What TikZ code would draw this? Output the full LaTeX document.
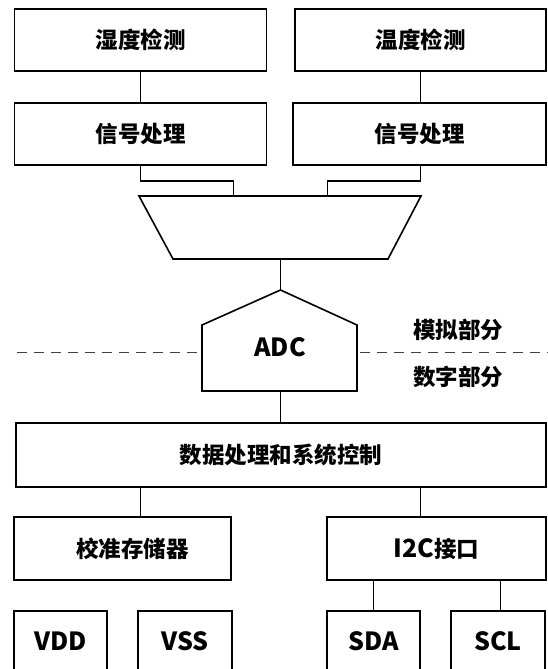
\documentclass[tikz,border=0pt]{standalone}
\usepackage{fontspec}
\setmainfont{Noto Sans CJK SC}
\begin{document}
\begin{tikzpicture}[x=1pt,y=-1pt,line width=1.6pt,
  txt/.style={font=\fontsize{22.5}{26}\selectfont\bfseries, inner sep=0pt},
  lat/.style={font=\fontsize{25}{28}\selectfont\bfseries},
  box/.style={draw, rectangle, inner sep=0pt, txt},
  wire/.style={draw, line width=1.6pt},
  divider/.style={draw=black!75, line width=1.6pt, dash pattern=on 10pt off 7pt}]
\useasboundingbox (0,0) rectangle (548,669);
\clip (0,0) rectangle (548,669);
% top boxes
\node[box, minimum width=252pt, minimum height=62pt] (hum) at (140.5,40) {湿度检测};
\node[box, minimum width=251pt, minimum height=62pt] (temp) at (420.5,40) {温度检测};
\node[box, minimum width=252pt, minimum height=62pt] (sig1) at (140.5,134) {信号处理};
\node[box, minimum width=253pt, minimum height=62pt] (sig2) at (419.5,134) {信号处理};
% multiplexer trapezoid
\coordinate (mxtl) at (139,196);
\coordinate (mxtr) at (421,196);
\coordinate (mxbr) at (388,259);
\coordinate (mxbl) at (173,259);
\coordinate (mxb) at (280.5,259);
\coordinate (tin1) at (233.5,196);
\coordinate (tin2) at (327.5,196);
\draw (mxtl) -- (mxtr) -- (mxbr) -- (mxbl) -- cycle;
% ADC
\coordinate (adctop) at (280.5,290);
\coordinate (adcl) at (202,325);
\coordinate (adcr) at (357,325);
\coordinate (adcbr) at (357,391);
\coordinate (adcbl) at (202,391);
\coordinate (adcb) at (280.5,391);
\draw (adctop) -- (adcr) -- (adcbr) -- (adcbl) -- (adcl) -- cycle;
\node[txt, lat] (adc) at (280,347) {ADC};
% divider
\coordinate (dl) at (17,352.5);
\coordinate (dr) at (548,352.5);
\path[divider] (dl) -- ([xshift=-3pt]adcl |- dl);
\path[divider] ([xshift=3pt]adcr |- dr) -- (dr);
\node[txt] (analog) at (458,330) {模拟部分};
\node[txt] (digital) at (458,377) {数字部分};
% lower boxes
\node[box, minimum width=530pt, minimum height=64pt] (main) at (281,455) {数据处理和系统控制};
\node[box, minimum width=217pt, minimum height=63pt] (cal) at (122.5,548.5) {\hspace*{20pt}校准存储器};
\node[box, minimum width=219pt, minimum height=63pt] (i2c) at (436.5,548.5) {{\fontsize{25}{28}\selectfont I2C}接口};
\node[box, lat, minimum width=93pt, minimum height=60pt] (vdd) at (60.5,641) {VDD};
\node[box, lat, minimum width=94pt, minimum height=60pt] (vss) at (185,641) {VSS};
\node[box, lat, minimum width=93pt, minimum height=60pt] (sda) at (373.5,641) {SDA};
\node[box, lat, minimum width=94pt, minimum height=60pt] (scl) at (498,641) {SCL};
% connectors
\path[wire] (hum.south) -- (sig1.north);
\path[wire] (temp.south) -- (temp.south |- sig2.north);
\path[wire] (sig1.south) -- ++(0,15) -| (tin1);
\path[wire] ([xshift=1pt]sig2.south) -- ++(0,15) -| (tin2);
\path[wire] (mxb) -- (adctop);
\path[wire] (adcb) -- (adcb |- main.north);
\path[wire] (main.south -| hum.south) -- (cal.north -| hum.south);
\path[wire] (main.south -| temp.south) -- (i2c.north -| temp.south);
\path[wire] (sda.north) -- (sda.north |- i2c.south);
\path[wire] ([xshift=2.5pt]scl.north) -- ([xshift=2.5pt]scl.north |- i2c.south);
\end{tikzpicture}
\end{document}
